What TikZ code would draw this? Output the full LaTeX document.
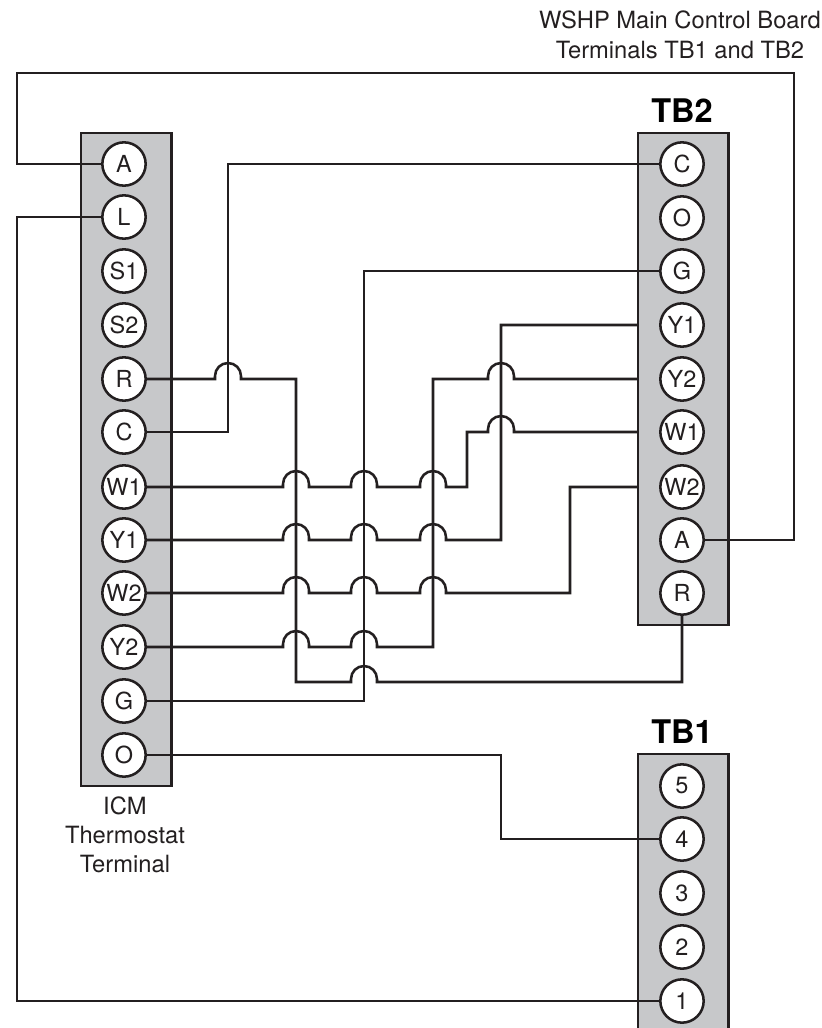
\documentclass[tikz,border=0pt]{standalone}
\usepackage{fontspec}
\setmainfont{TeX Gyre Heros}
\definecolor{panelgray}{HTML}{C7C8CA}
\definecolor{ink}{HTML}{231F20}
\newcommand{\hopat}[2]{-- (#1-13,#2) -- (#1-13,#2-3) arc[start angle=180,end angle=360,radius=13] -- (#1+13,#2)}
\tikzset{
  x=0.75pt,y=-0.75pt,
  panel/.style={draw=ink,fill=panelgray,line width=1.9pt,rectangle,minimum width=68pt,inner sep=0pt,outer sep=0pt,anchor=north west},
  term/.style={draw=ink,fill=white,line width=1.9pt,circle,minimum size=32.5pt,inner sep=0pt,text=ink,font=\fontsize{17.6}{17.6}\selectfont},
  wire/.style={draw=ink,line width=1.9pt,line join=miter},
  boardtitle/.style={font=\fontsize{24.4}{26}\selectfont\bfseries,text=black,inner sep=0pt,anchor=base},
  caption/.style={font=\fontsize{17.8}{22}\selectfont,text=ink,align=center,inner sep=0pt,anchor=north}
}
\begin{document}
\begin{tikzpicture}
\useasboundingbox (0,0) rectangle (821,1028);
\clip (0,0) rectangle (821,1028);
% panels
\node[panel,minimum height=489.75pt] (icm) at (81,133) {};
\node[panel,minimum height=369pt] (tb2) at (638,133) {};
\node[panel,minimum height=240pt] (tb1) at (638,754) {};
% left terminals
\node[term] (lA) at (124,164) {A};
\node[term] (lL) at (124,217) {L};
\node[term] (lS1) at (124,271) {S1};
\node[term] (lS2) at (124,325) {S2};
\node[term] (lR) at (124,379) {R};
\node[term] (lC) at (124,432) {C};
\node[term] (lW1) at (124,487) {W1};
\node[term] (lY1) at (124,540) {Y1};
\node[term] (lW2) at (124,593) {W2};
\node[term] (lY2) at (124,647) {Y2};
\node[term] (lG) at (124,701) {G};
\node[term] (lO) at (124,755) {O};
% TB2 terminals
\node[term] (rC) at (682,164) {C};
\node[term] (rO) at (682,218) {O};
\node[term] (rG) at (682,271) {G};
\node[term] (rY1) at (682,325) {Y1};
\node[term] (rY2) at (682,379) {Y2};
\node[term] (rW1) at (682,432) {W1};
\node[term] (rW2) at (682,487) {W2};
\node[term] (rA) at (682,540) {A};
\node[term] (rR) at (682,593) {R};
% TB1 terminals
\node[term] (t5) at (682,786) {5};
\node[term] (t4) at (682,839) {4};
\node[term] (t3) at (682,893) {3};
\node[term] (t2) at (682,947) {2};
\node[term] (t1) at (682,1001) {1};
% labels
\node[boardtitle] (ttb2) at (682,122) {TB2};
\node[boardtitle] (ttb1) at (682,743) {TB1};
\node[caption] (cap1) at (125,796) {ICM\\Thermostat\\Terminal};
\node[caption] (cap2) at (680,11) {WSHP Main Control Board\\Terminals TB1 and TB2};
% wires
\draw[wire] (lA.west) -- (17,164) -- (17,73) -- (794,73) -- (794,540) -- (rA.east);
\draw[wire] (lL.west) -- (17,217) -- (17,1001) -- (t1.west);
\draw[wire] (lC.east) -- (228,432) -- (228,164) -- (rC.west);
\draw[wire] (lG.east) -- (364,701) -- (364,271) -- (rG.west);
\draw[wire] (lO.east) -- (501,755) -- (501,839) -- (t4.west);
\draw[wire] (lR.east) \hopat{228}{379} -- (296,379) -- (296,682) \hopat{364}{682} -- (682,682) -- (rR.south);
\draw[wire] (lW1.east) \hopat{296}{487} \hopat{364}{487} \hopat{433}{487} -- (467,487) -- (467,432) \hopat{501}{432} -- (rW1 -| tb2.west);
\draw[wire] (lY1.east) \hopat{296}{540} \hopat{364}{540} \hopat{433}{540} -- (501,540) -- (501,325) -- (rY1 -| tb2.west);
\draw[wire] (lW2.east) \hopat{296}{593} \hopat{364}{593} \hopat{433}{593} -- (570,593) -- (570,487) -- (rW2 -| tb2.west);
\draw[wire] (lY2.east) \hopat{296}{647} \hopat{364}{647} -- (433,647) -- (433,379) \hopat{501}{379} -- (rY2 -| tb2.west);
\end{tikzpicture}
\end{document}
